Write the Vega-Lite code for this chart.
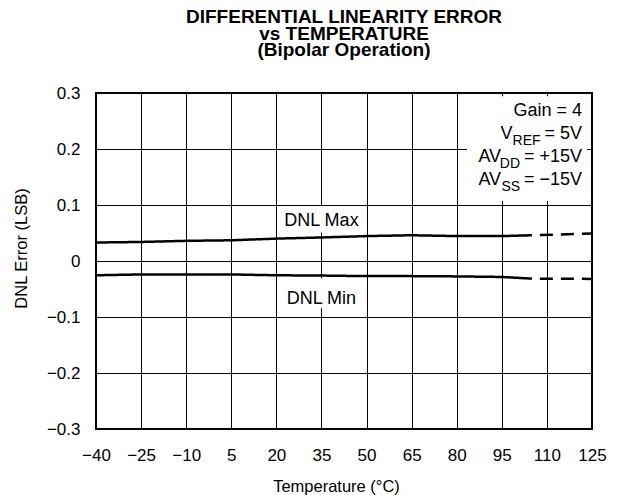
{
  "$schema": "https://vega.github.io/schema/vega-lite/v6.json",
  "width": 496,
  "height": 336,
  "autosize": "none",
  "padding": {"left": 96, "top": 93, "right": 26, "bottom": 66},
  "background": "white",
  "config": {
    "font": "Liberation Sans",
    "view": {"stroke": "black", "strokeWidth": 2},
    "axis": {
      "grid": true,
      "gridColor": "black",
      "gridOpacity": 1,
      "gridWidth": 1,
      "ticks": false,
      "tickSize": 0,
      "domain": false,
      "labelColor": "black",
      "titleColor": "black",
      "labelFontSize": 17,
      "labelFlush": false,
      "labelOverlap": false,
      "titleFontSize": 16.5,
      "titleFontWeight": "normal"
    }
  },
  "title": {
    "text": ["DIFFERENTIAL LINEARITY ERROR", "vs TEMPERATURE", "(Bipolar Operation)"],
    "fontSize": 19,
    "fontWeight": "bold",
    "lineHeight": 16.5,
    "anchor": "middle",
    "offset": 24,
    "color": "black"
  },
  "datasets": {
    "dnl": [
      {"temp": -40, "value": 0.033, "series": "DNL Max", "part": "measured"},
      {"temp": -25, "value": 0.034, "series": "DNL Max", "part": "measured"},
      {"temp": -10, "value": 0.036, "series": "DNL Max", "part": "measured"},
      {"temp": 5, "value": 0.037, "series": "DNL Max", "part": "measured"},
      {"temp": 20, "value": 0.040, "series": "DNL Max", "part": "measured"},
      {"temp": 35, "value": 0.042, "series": "DNL Max", "part": "measured"},
      {"temp": 50, "value": 0.0445, "series": "DNL Max", "part": "measured"},
      {"temp": 65, "value": 0.046, "series": "DNL Max", "part": "measured"},
      {"temp": 80, "value": 0.0445, "series": "DNL Max", "part": "measured"},
      {"temp": 95, "value": 0.0445, "series": "DNL Max", "part": "measured"},
      {"temp": 105, "value": 0.046, "series": "DNL Max", "part": "measured"},
      {"temp": 105, "value": 0.046, "series": "DNL Max", "part": "extrapolated"},
      {"temp": 125, "value": 0.049, "series": "DNL Max", "part": "extrapolated"},
      {"temp": -40, "value": -0.0255, "series": "DNL Min", "part": "measured"},
      {"temp": -25, "value": -0.024, "series": "DNL Min", "part": "measured"},
      {"temp": -10, "value": -0.024, "series": "DNL Min", "part": "measured"},
      {"temp": 5, "value": -0.024, "series": "DNL Min", "part": "measured"},
      {"temp": 20, "value": -0.0255, "series": "DNL Min", "part": "measured"},
      {"temp": 35, "value": -0.026, "series": "DNL Min", "part": "measured"},
      {"temp": 50, "value": -0.027, "series": "DNL Min", "part": "measured"},
      {"temp": 65, "value": -0.027, "series": "DNL Min", "part": "measured"},
      {"temp": 80, "value": -0.0275, "series": "DNL Min", "part": "measured"},
      {"temp": 95, "value": -0.0285, "series": "DNL Min", "part": "measured"},
      {"temp": 105, "value": -0.0315, "series": "DNL Min", "part": "measured"},
      {"temp": 105, "value": -0.0315, "series": "DNL Min", "part": "extrapolated"},
      {"temp": 125, "value": -0.032, "series": "DNL Min", "part": "extrapolated"}
    ],
    "one": [{}]
  },
  "layer": [
    {
      "data": {"name": "dnl"},
      "mark": {"type": "line", "color": "black", "strokeWidth": 2.5, "strokeDashOffset": 13},
      "encoding": {
        "x": {
          "field": "temp",
          "type": "quantitative",
          "scale": {"domain": [-40, 125], "nice": false, "zero": false},
          "axis": {
            "values": [-40, -25, -10, 5, 20, 35, 50, 65, 80, 95, 110, 125],
            "labelExpr": "replace(format(datum.value, 'd'), '-', '−')",
            "labelPadding": 18,
            "title": "Temperature (°C)",
            "titleX": 240,
            "titleY": 49,
            "titleBaseline": "top"
          }
        },
        "y": {
          "field": "value",
          "type": "quantitative",
          "scale": {"domain": [-0.3, 0.3], "nice": false, "zero": false},
          "axis": {
            "values": [-0.3, -0.2, -0.1, 0, 0.1, 0.2, 0.3],
            "labelExpr": "datum.value == 0 ? '0' : replace(format(datum.value, '.1f'), '-', '−')",
            "labelPadding": 16,
            "title": "DNL Error (LSB)",
            "titleX": -75,
            "titleY": 155,
            "titleAlign": "center",
            "titleBaseline": "middle",
            "titleAngle": 270
          }
        },
        "detail": {"field": "series"},
        "strokeDash": {
          "field": "part",
          "type": "nominal",
          "scale": {"domain": ["measured", "extrapolated"], "range": [[1, 0], [13, 8]]},
          "legend": null
        }
      }
    },
    {
      "data": {"name": "one"},
      "mark": {"type": "rect", "fill": "white"},
      "encoding": {
        "x": {"datum": 21}, "x2": {"datum": 49},
        "y": {"datum": 0.0977}, "y2": {"datum": 0.051}
      }
    },
    {
      "data": {"name": "one"},
      "mark": {"type": "rect", "fill": "white"},
      "encoding": {
        "x": {"datum": 21}, "x2": {"datum": 49},
        "y": {"datum": -0.031}, "y2": {"datum": -0.0845}
      }
    },
    {
      "data": {"name": "one"},
      "mark": {"type": "rect", "fill": "white"},
      "encoding": {
        "x": {"datum": 83.4}, "x2": {"datum": 123.3},
        "y": {"datum": 0.294}, "y2": {"datum": 0.107}
      }
    },
    {
      "data": {"name": "one"},
      "mark": {"type": "text", "fontSize": 18, "align": "center", "baseline": "alphabetic", "color": "black", "text": "DNL Max"},
      "encoding": {"x": {"datum": 35}, "y": {"datum": 0.062}}
    },
    {
      "data": {"name": "one"},
      "mark": {"type": "text", "fontSize": 18, "align": "center", "baseline": "alphabetic", "color": "black", "text": "DNL Min"},
      "encoding": {"x": {"datum": 35}, "y": {"datum": -0.0773}}
    },
    {
      "data": {"name": "one"},
      "mark": {"type": "text", "fontSize": 18, "align": "right", "baseline": "alphabetic", "color": "black", "lineHeight": 22.8, "text": ["Gain = 4", "= 5V", "= +15V", "= −15V"]},
      "encoding": {"x": {"datum": 121.7}, "y": {"datum": 0.2584}}
    },
    {
      "data": {"name": "one"},
      "mark": {"type": "text", "fontSize": 14, "align": "right", "baseline": "alphabetic", "color": "black", "dx": -41.5, "text": "REF"},
      "encoding": {"x": {"datum": 121.7}, "y": {"datum": 0.2066}}
    },
    {
      "data": {"name": "one"},
      "mark": {"type": "text", "fontSize": 18, "align": "right", "baseline": "alphabetic", "color": "black", "dx": -69.5, "text": "V"},
      "encoding": {"x": {"datum": 121.7}, "y": {"datum": 0.2178}}
    },
    {
      "data": {"name": "one"},
      "mark": {"type": "text", "fontSize": 14, "align": "right", "baseline": "alphabetic", "color": "black", "dx": -62, "lineHeight": 22.8, "text": ["DD", "SS"]},
      "encoding": {"x": {"datum": 121.7}, "y": {"datum": 0.1664}}
    },
    {
      "data": {"name": "one"},
      "mark": {"type": "text", "fontSize": 18, "align": "right", "baseline": "alphabetic", "color": "black", "dx": -81, "lineHeight": 22.8, "text": ["AV", "AV"]},
      "encoding": {"x": {"datum": 121.7}, "y": {"datum": 0.1771}}
    }
  ]
}
